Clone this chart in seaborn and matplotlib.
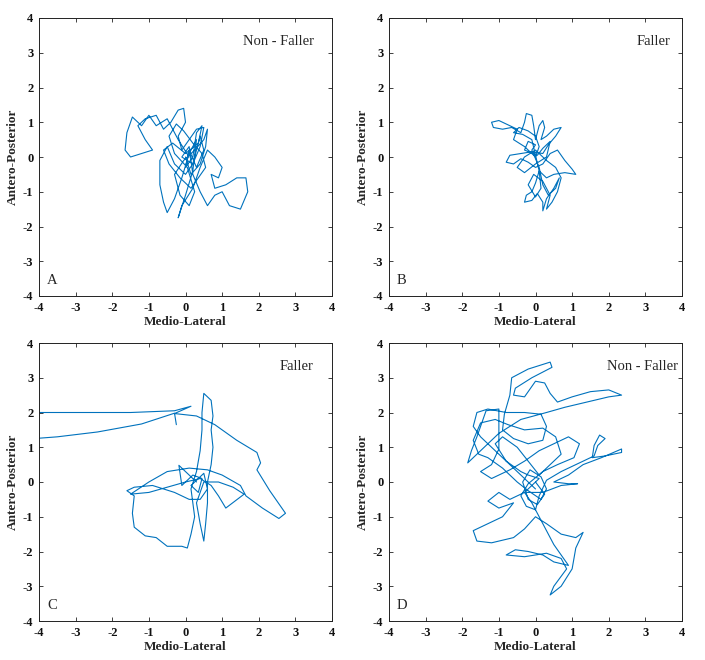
import matplotlib
matplotlib.use("Agg")
import matplotlib.pyplot as plt
import pandas as pd
import seaborn as sns

# sway paths (medio-lateral x, antero-posterior y)
a_x = [0.1, -0.2, -0.5, -0.8, -1.0, -1.2, -1.45, -1.6, -1.65, -1.5, -1.2, -0.9, -1.1, -1.3,
       -1.1, -0.8, -0.6, -0.4, -0.2, -0.05, 0.0, -0.2, -0.1, 0.1, 0.3, 0.5, 0.4, 0.2, 0.0,
       -0.3, -0.5, -0.7, -0.7, -0.6, -0.5, -0.3, -0.1, 0.1, 0.3, 0.2, 0.0, -0.2, -0.1, 0.2,
       0.4, 0.6, 0.8, 1.0, 0.9, 0.7, 0.8, 1.1, 1.4, 1.65, 1.7, 1.5, 1.2, 1.0, 0.8, 0.6, 0.4,
       0.2, 0.1, -0.1, 0.2, 0.4, 0.5, 0.3, 0.1, 0.0, 0.2,
       0.3, 0.45, 0.35, 0.0, -0.35, -0.6, -0.45, -0.15, 0.15, 0.35, 0.55, 0.45, 0.2, -0.05,
       -0.25, -0.45, -0.3, 0.05, 0.25, 0.1, -0.15, -0.3, -0.05, 0.25, 0.5, 0.6, 0.55, 0.4,
       0.15, 0.0]
a_y = [0.0, 0.5, 1.1, 0.9, 1.2, 0.9, 1.15, 0.7, 0.2, 0.0, 0.1, 0.2, 0.5, 0.9,
       1.1, 1.2, 0.8, 1.0, 1.35, 1.4, 1.0, 0.6, 0.2, 0.5, 0.8, 0.85, 0.3, -0.2, -0.5,
       -0.2, 0.3, -0.1, -0.8, -1.3, -1.6, -1.2, -0.6, 0.1, 0.5, -0.4, -1.1, -1.75, -1.4, -0.9,
       -0.3, 0.2, 0.0, -0.3, -0.6, -0.5, -0.9, -0.8, -0.6, -0.6, -1.0, -1.5, -1.4, -1.0, -1.1,
       -1.4, -1.0, -0.5, 0.3, 0.0, -0.2, 0.6, 0.2, -0.3, 0.2, -0.3, 0.0,
       0.7, 0.9, 0.4, 0.1, 0.4, 0.2, -0.2, -0.6, -0.9, -0.6, -0.3, 0.1, 0.4, 0.75,
       0.95, 0.6, 0.1, -0.3, -1.0, -1.4, -1.1, -0.5, -0.1, 0.2, 0.5, 0.8, 0.3, -0.2,
       -0.5, 0.0]

b_x = [0.0, -0.3, -0.6, -0.5, -0.8, -1.0, -1.2, -1.15, -0.9, -0.65, -0.4, -0.3, -0.25, -0.1,
       -0.05, 0.0, 0.1, 0.2, 0.25, 0.15, 0.3, 0.5, 0.7, 0.55, 0.35, 0.2, -0.1, -0.4, -0.7,
       -0.8, -0.6, -0.4, -0.2, 0.0, 0.2, 0.4, 0.6, 0.8, 1.0, 1.1, 0.8, 0.5, 0.3, 0.1, 0.0,
       -0.1, -0.25, -0.3, -0.1, 0.05, 0.2, 0.2, 0.3, 0.5, 0.65, 0.55, 0.35, 0.2, 0.1, -0.1,
       0.0, -0.2, -0.3, 0.05,
       0.2, 0.4, 0.3, 0.0, -0.3, -0.5, -0.3, 0.0, 0.3, 0.55, 0.7, 0.6, 0.45, 0.3, 0.4,
       0.2, -0.05, -0.2, 0.0, 0.15, 0.1, -0.1, -0.35, -0.6, -0.45, -0.2, 0.0, 0.1, 0.0]
b_y = [0.0, 0.3, 0.5, 0.8, 0.95, 1.05, 1.0, 0.85, 0.8, 0.85, 0.7, 1.0, 1.25, 1.2,
       0.9, 0.5, 0.9, 1.05, 0.85, 0.5, 0.6, 0.8, 0.85, 0.6, 0.35, 0.1, 0.15, 0.1, 0.05,
       -0.15, -0.2, -0.05, -0.15, -0.3, -0.2, 0.1, 0.2, -0.1, -0.35, -0.5, -0.45, -0.5, -0.6,
       -0.4, -0.75, -1.0, -1.1, -1.3, -1.25, -1.05, -1.3, -1.55, -1.2, -0.9, -0.6, -0.9,
       -1.1, -0.8, -0.3, 0.2, 0.35, 0.45, 0.2, 0.05,
       0.25, 0.45, 0.0, -0.2, -0.45, -0.3, 0.0, 0.2, -0.1, -0.3, -0.6, -1.0, -1.3, -1.5, -1.1,
       -0.7, -0.5, -0.8, -1.15, -0.9, -0.4, 0.5, 0.65, 0.7, 0.85, 0.75, 0.6, 0.3, 0.0]

c_x = [0.3, -0.18, -0.1, 0.2, 0.45, 0.35, 0.15, 0.5, 0.6, 0.4, 0.1, -0.3, -0.9, -1.4,
       -1.6, -1.4, -1.45, -1.4, -1.1, -0.8, -0.5, -0.1, 0.05, 0.15, 0.25, 0.2, 0.15, 0.3,
       0.4, 0.45, 0.45, 0.5, 0.7, 0.75, 0.7, 0.75, 0.7, 0.6, 0.6, 0.55, 0.5, 0.4, 0.3, 0.5,
       0.9, 1.3, 1.6, 1.1, 0.9, 0.7, 0.4, 0.0, -0.5, -1.0, -1.5, -1.0, -0.5, 0.1, 0.6, 1.0,
       1.5, 1.65, 2.1, 2.55, 2.73, 2.3, 1.95, 2.05, 1.95, 1.4, 0.8, 0.3, -0.3, 0.15, -0.3,
       -1.5, -3.0, -4.5, -4.5, -3.5, -2.4, -1.2, -0.3, -0.25]
c_y = [0.0, 0.48, -0.1, 0.2, 0.1, -0.3, -0.1, 0.25, -0.2, -0.5, -0.5, -0.3, -0.1, -0.15,
       -0.25, -0.4, -0.9, -1.3, -1.55, -1.6, -1.85, -1.85, -1.9, -1.5, -1.0, -0.6, -0.2, 0.3,
       0.9, 1.5, 2.0, 2.55, 2.35, 1.9, 1.5, 1.0, 0.5, 0.0, -0.6, -1.2, -1.7, -1.2, -0.6, 0.0,
       0.0, -0.15, -0.35, -0.75, -0.4, -0.1, 0.1, 0.0, -0.15, -0.3, -0.35, 0.0, 0.3, 0.4,
       0.35, 0.2, -0.1, -0.4, -0.75, -1.05, -0.9, -0.25, 0.35, 0.55, 0.85, 1.2, 1.65, 1.9,
       1.97, 2.18, 2.05, 2.0, 2.0, 2.0, 1.22, 1.3, 1.44, 1.67, 1.98, 1.65]

d_x = [0.0, -0.3, -0.6, -0.9, -1.2, -1.5, -1.7, -1.6, -1.3, -0.8, -0.3, 0.15, 0.3, 0.2,
       -0.2, -0.6, -0.9, -0.85, -0.7, -0.65, -0.2, 0.4, 0.45, -0.1, -0.55, -0.6, -0.3, 0.0,
       0.25, 0.4, 0.6, 1.0, 1.5, 2.0, 2.35, 2.0, 1.4, 0.8, 0.3, -0.4, -1.0, -1.5, -1.85,
       -1.75, -1.6, -1.35, -1.0, -1.0, -1.2, -1.5, -1.2, -0.7, -0.3, 0.1, 0.5, 0.9, 1.2,
       1.05, 0.6, 0.2, -0.2, -0.4, -0.25, 0.0, 0.1, 0.3, 0.7, 1.2, 1.6, 1.7, 1.9, 1.75, 1.6,
       1.55, 1.9, 2.35, 2.35, 1.8, 1.3, 0.9, 0.5, 0.9, 1.15, 0.7, 0.2, -0.3, -0.7, -1.0,
       -1.3, -1.0, -0.6, -0.9, -1.3, -1.7, -1.6, -1.2, -0.6, -0.3, 0.0, 0.3, 0.7, 1.1, 1.3,
       1.1, 1.0, 0.7, 0.4, 0.5, 0.85, 0.7, 0.3, -0.3, -0.8, -0.55, -0.2, 0.2, 0.5, 0.9, 0.5,
       0.2, -0.1, -0.3, 0.1, -0.2,
       -0.4, -0.8, -1.1, -0.9, -0.5, -0.2, 0.1, 0.4, 0.7, 0.55, 0.2, -0.3, -0.75, -1.1,
       -1.5, -1.7, -1.55, -1.3, -0.9, -0.5, -0.2, 0.15, 0.3, 0.15, -0.15, -0.35, -0.2, 0.05,
       0.25, 0.0]
d_y = [-0.2, 0.1, 0.4, 0.7, 1.0, 1.3, 1.6, 2.0, 2.1, 2.0, 2.0, 1.95, 1.6, 1.2,
       1.1, 1.25, 1.5, 1.95, 2.5, 3.0, 3.25, 3.45, 3.3, 3.0, 2.7, 2.5, 2.45, 2.9,
       2.85, 2.55, 2.3, 2.45, 2.6, 2.65, 2.5, 2.45, 2.3, 2.15, 2.0, 1.8, 1.4, 0.9, 0.55,
       0.9, 1.3, 2.05, 2.1, 0.95, 0.5, 0.3, 0.1, 0.35, 0.6, 0.9, 1.1, 1.3, 1.1,
       0.7, 0.5, 0.3, -0.05, -0.4, -0.7, -0.8, -0.4, 0.05, 0.3, 0.55, 0.75, 1.05, 1.25, 1.35, 1.05,
       0.7, 0.75, 0.85, 0.95, 0.7, 0.5, 0.2, 0.0, -0.05, -0.05, -0.1, -0.3, -0.3, -0.5, -0.3,
       -0.55, -0.75, -0.6, -1.0, -1.2, -1.4, -1.7, -1.75, -1.6, -1.35, -1.0, -1.2, -1.5, -1.6, -1.45,
       -1.9, -2.5, -3.0, -3.25, -3.0, -2.5, -2.2, -2.05, -2.15, -2.1, -1.95, -2.0, -2.1, -2.3, -2.4, -1.8,
       -1.2, -0.6, -0.3, 0.1, 0.2,
       0.3, 0.6, 1.1, 1.3, 1.0, 0.6, 0.2, 0.5, 0.8, 1.3, 1.55, 1.5, 1.65, 1.8,
       1.7, 1.2, 0.8, 0.7, 0.4, 0.0, -0.25, -0.5, -0.2, 0.15, 0.35, 0.0, -0.5, -0.65,
       -0.35, 0.0]

panels = [
    (a_x, a_y, "Non - Faller", 3.5, "A"),
    (b_x, b_y, "Faller", 3.68, "B"),
    (c_x, c_y, "Faller", 3.5, "C"),
    (d_x, d_y, "Non - Faller", 3.88, "D"),
]
ticks = list(range(-4, 5))
tick_labels = [str(t) for t in ticks]

sns.set_theme(style="white")
plt.rcParams["font.family"] = ["Liberation Serif", "DejaVu Serif"]
plt.rcParams["axes.unicode_minus"] = False

fig = plt.figure(figsize=(7.05, 6.6), dpi=100)
boxes = [
    (39 / 705, 1 - 296 / 660, 293 / 705, 278 / 660),
    (389 / 705, 1 - 296 / 660, 293 / 705, 278 / 660),
    (39 / 705, 1 - 621 / 660, 293 / 705, 278 / 660),
    (389 / 705, 1 - 621 / 660, 293 / 705, 278 / 660),
]

for box, (xs, ys, group, tx, letter) in zip(boxes, panels):
    ax = fig.add_axes(box)
    df = pd.DataFrame({"ml": xs, "ap": ys})
    sns.lineplot(data=df, x="ml", y="ap", sort=False, estimator=None,
                 color="#0072BD", linewidth=0.8, ax=ax)
    ax.set_xlim(-4, 4)
    ax.set_ylim(-4, 4)
    ax.set_xticks(ticks, tick_labels, fontweight="bold")
    ax.set_yticks(ticks, tick_labels, fontweight="bold")
    ax.tick_params(which="both", direction="in", length=3, width=0.6,
                   top=True, right=True, bottom=True, left=True,
                   labelsize=9, pad=4, color="#222222", labelcolor="#111111")
    for sp in ax.spines.values():
        sp.set_visible(True)
        sp.set_color("#222222")
        sp.set_linewidth(0.7)
    ax.set_xlabel("Medio-Lateral", fontsize=9.5, fontweight="bold", labelpad=2)
    ax.set_ylabel("Antero-Posterior", fontsize=9.5, fontweight="bold", labelpad=3)
    ax.text(tx, 3.32, group, ha="right", va="center", fontsize=10.5)
    ax.text(-3.65, -3.55, letter, ha="center", va="center", fontsize=10.5)
    ax.grid(False)

fig.savefig("out.png", dpi=100)
